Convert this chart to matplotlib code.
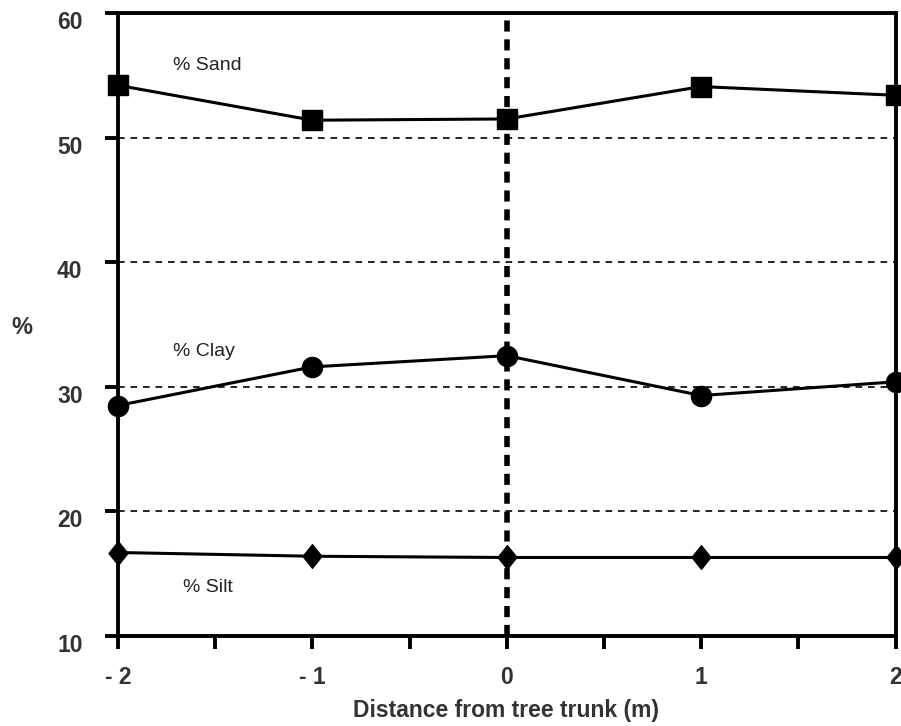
import matplotlib
matplotlib.use("Agg")
import matplotlib.pyplot as plt
import matplotlib.transforms as mtransforms
from matplotlib.path import Path

plt.rcParams['font.family'] = ['Liberation Sans', 'DejaVu Sans']

distance = [-2, -1, 0, 1, 2]
sand = [54.2, 51.4, 51.5, 54.1, 53.4]
clay = [28.5, 31.6, 32.5, 29.3, 30.4]
silt = [16.7, 16.4, 16.3, 16.3, 16.3]
x_ticklabels = ['- 2', '- 1', '0', '1', '2']
y_ticks = [10, 20, 30, 40, 50, 60]

# slightly tall diamond, like the original
tall_diamond = Path([(0, 1), (0.8, 0), (0, -1), (-0.8, 0), (0, 1)],
                    [Path.MOVETO, Path.LINETO, Path.LINETO, Path.LINETO, Path.CLOSEPOLY])

fig = plt.figure(figsize=(9.01, 7.26), dpi=100)
ax = fig.add_axes([0.131, 0.124, 0.863, 0.858])

# dashed reference lines
for yv in [20, 30, 40, 50]:
    ax.axhline(yv, color='black', lw=1.2, ls=(0, (4, 3.5)), zorder=1)
ax.axvline(0, color='black', lw=4, ls=(0, (2.0, 1.4)), zorder=1)

ax.plot(distance, sand, color='black', lw=2.2, marker='s', ms=14, clip_on=False, zorder=3)
ax.plot(distance, clay, color='black', lw=2.2, marker='o', ms=14.5, clip_on=False, zorder=3)
ax.plot(distance, silt, color='black', lw=2.2, marker=tall_diamond, ms=17, clip_on=False, zorder=3)

ax.text(-1.717, 55.8, '% Sand', fontsize=14, ha='left', va='center', color='#222222')
ax.text(-1.717, 32.8, '% Clay', fontsize=14, ha='left', va='center', color='#222222')
ax.text(-1.666, 13.9, '% Silt', fontsize=14, ha='left', va='center', color='#222222')

ax.set_xlim(-2, 2)
ax.set_ylim(10, 60)
ax.set_xticks(distance)
ax.set_xticklabels(x_ticklabels)
ax.set_xticks([-1.5, -0.5, 0.5, 1.5], minor=True)
ax.set_yticks(y_ticks)

for s in ax.spines.values():
    s.set_linewidth(2.8)
ax.tick_params(axis='both', which='major', direction='out', length=9.5, width=2.8,
               labelsize=16.5)
ax.tick_params(axis='y', which='major', pad=16)
ax.tick_params(axis='x', which='major', pad=12)
ax.tick_params(axis='x', which='minor', direction='out', length=9.5, width=2.8)

shift_down = mtransforms.ScaledTranslation(0, -7 / 100, fig.dpi_scale_trans)
for lab in ax.get_yticklabels():
    lab.set_transform(lab.get_transform() + shift_down)
for lab in ax.get_xticklabels() + ax.get_yticklabels():
    lab.set_fontweight('bold')
    lab.set_color('#333333')

fig.text(506 / 901, 1 - 710 / 726, 'Distance from tree trunk (m)', fontsize=16.5,
         fontweight='bold', color='#333333', ha='center', va='center')
fig.text(22 / 901, 1 - 328 / 726, '%', fontsize=17, fontweight='bold',
         color='#333333', ha='center', va='center')

fig.savefig('out.png', dpi=100)
